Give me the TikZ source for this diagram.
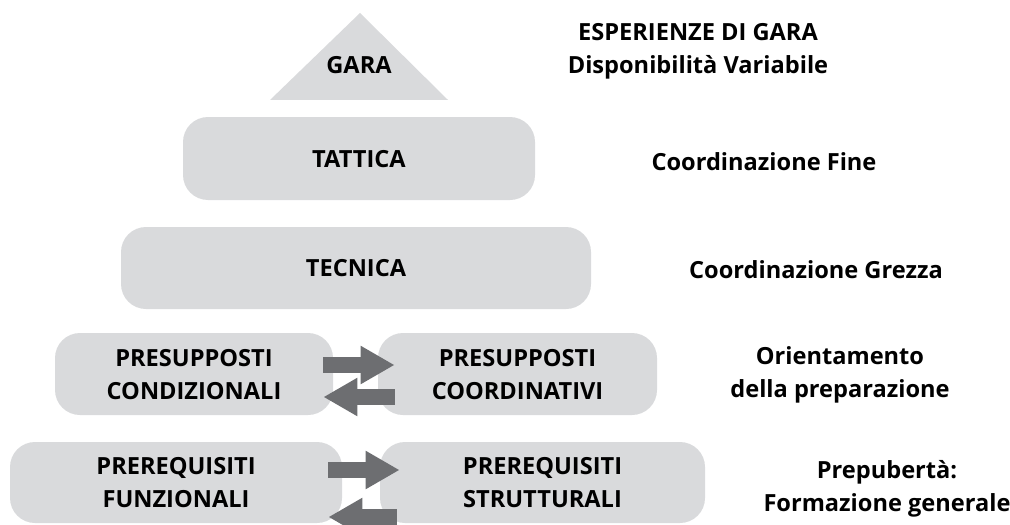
\documentclass[tikz,border=0pt]{standalone}
\usepackage{fontspec}
\setmainfont{Open Sans}
\usepackage{xcolor}
\usetikzlibrary{positioning,calc,arrows.meta}

\definecolor{boxgray}{HTML}{D9DADC}
\definecolor{arrowgray}{HTML}{6D6E71}

\begin{document}
\begin{tikzpicture}[
    x=0.5pt, y=-0.5pt,
    every node/.style={font=\fontsize{11.8}{16.5}\selectfont\bfseries, align=center},
    block/.style={rectangle, rounded corners=12.5pt, fill=boxgray, minimum height=41pt, inner sep=0pt, text depth=0pt},
    side/.style={text=black},
    flow/.style={draw=arrowgray, line width=8pt, -{Triangle[length=17pt, width=18pt]}}
]
    \useasboundingbox (0,0) rectangle (1010,524);

    % Vertice
    \fill[boxgray] (270,100) -- (360,13) -- (448,100) -- cycle;
    \node (gara) at (359,65) {GARA};

    % Livelli
    \node[block, minimum width=176pt, minimum height=41.5pt] (tattica) at (359,158.5) {TATTICA};
    \node[block, minimum width=235pt] (tecnica) at (356,268) {TECNICA};

    % Presupposti
    \node[block, minimum width=139pt] (condiz) at (194,374) {PRESUPPOSTI\\CONDIZIONALI};
    \node[block, minimum width=139.5pt] (coordin) at (517.5,374) {PRESUPPOSTI\\COORDINATIVI};
    \draw[flow] ([xshift=-5pt, yshift=4.5pt]condiz.east) -- ([xshift=8.5pt, yshift=4.5pt]coordin.west);
    \draw[flow] ([xshift=8.5pt, yshift=-11.5pt]coordin.west) -- ([xshift=-5pt, yshift=-11.5pt]condiz.east);

    % Prerequisiti
    \node[block, minimum width=166pt, minimum height=40.5pt] (funz) at (176,482.5) {PREREQUISITI\\FUNZIONALI};
    \node[block, minimum width=162.5pt, minimum height=40.5pt] (strutt) at (542.5,482.5) {PREREQUISITI\\STRUTTURALI};
    \draw[flow] ([xshift=-7pt, yshift=6.25pt]funz.east) -- ([xshift=10pt, yshift=6.25pt]strutt.west);
    \draw[flow] ([xshift=8.5pt, yshift=-17.25pt]strutt.west) -- ([xshift=-7pt, yshift=-17.25pt]funz.east);

    % Didascalie a destra
    \node[side] (esper) at (698,51) {ESPERIENZE DI GARA\\Disponibilità Variabile};
    \node[side] (fine) at (764,162) {Coordinazione Fine};
    \node[side] (grezza) at (816,270) {Coordinazione Grezza};
    \node[side] (orient) at (840,375) {Orientamento\\della preparazione};
    \node[side] (prepub) at (887,489) {Prepubertà:\\Formazione generale};
\end{tikzpicture}
\end{document}
